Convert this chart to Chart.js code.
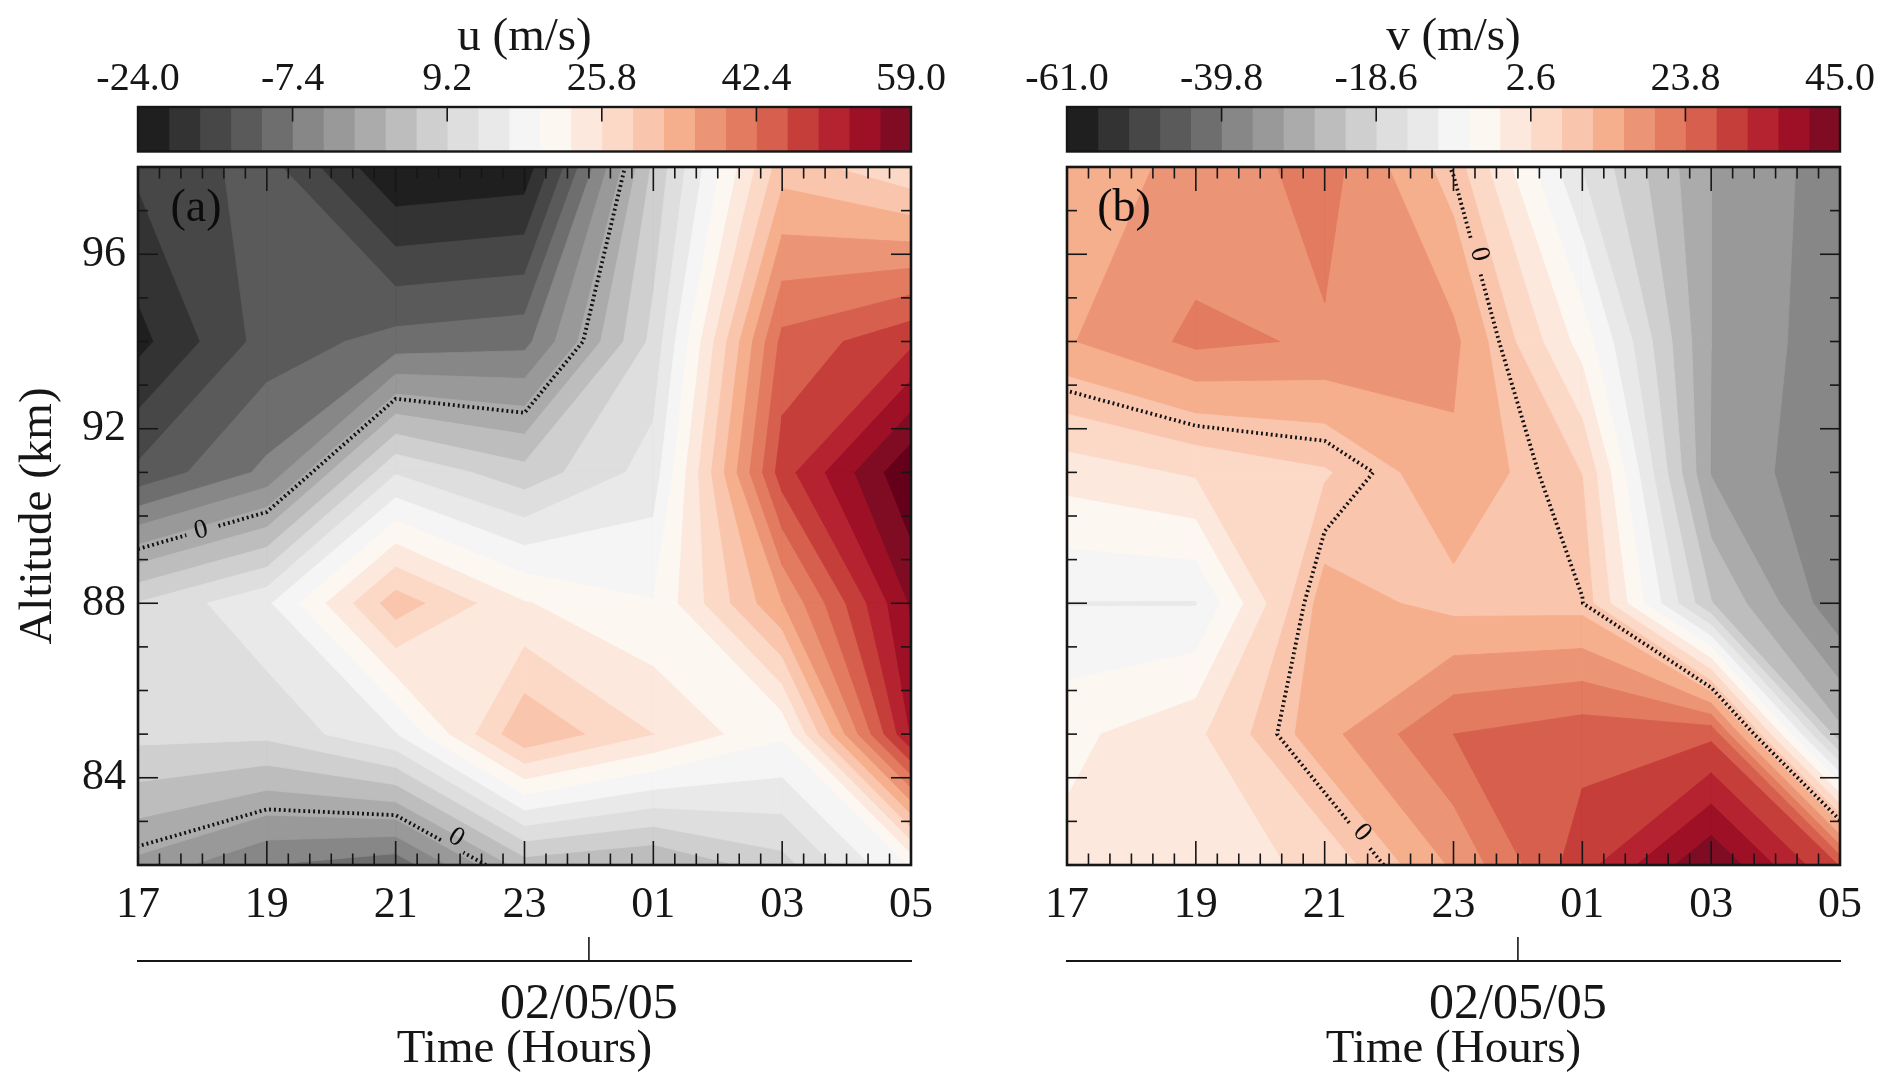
<!DOCTYPE html>
<html><head><meta charset="utf-8">
<script src="https://cdn.jsdelivr.net/npm/chart.js@4"></script>
<style>
html,body{margin:0;padding:0;background:#fff;width:1892px;height:1089px;overflow:hidden}
canvas{position:absolute;display:block}
</style></head><body>
<canvas id="cbA" style="left:0;top:0"></canvas>
<canvas id="cbB" style="left:985px;top:0"></canvas>
<canvas id="plotA" style="left:0;top:158px"></canvas>
<canvas id="plotB" style="left:985px;top:158px"></canvas>
<script>
// ---- grid axes (hours run past midnight: 25 = 01h) ----
const hours = [17,19,21,23,25,27,29];
const altitudes = [82,85,88,91,94,98];
// ---- eastward wind u (m/s), one list per altitude ----
const u82 = [-1.7,-7.4,-9.6,4.1,2.2,7.9,19.5];
const u85 = [10.2,10,15.6,32,25.8,19.7,52.6];
const u88 = [9.4,15.2,31,22.7,19.35,35.6,56.1];
const u91 = [-13.3,-6.6,12.2,7.1,14,47.5,62];
const u94 = [-21.8,-12.6,-9.5,-8.5,10.2,43.4,48.3];
const u98 = [-16.7,-12.7,-24,-23,6.5,30.9,26.3];
// ---- northward wind v (m/s), one list per altitude ----
const v82 = [-9.76,-9.36,-5.61,6.64,21.14,35.44,18.44];
const v85 = [-12.16,-7.76,4.54,14.44,16.94,17.64,-35.36];
const v88 = [-19.66,-19.76,3.74,0.29,0.14,-31.96,-48.36];
const v91 = [-9.16,-6.22,-3.06,5.04,-2.61,-40.96,-49.06];
const v94 = [5.54,11.24,9.64,7.04,-12.86,-40.66,-47.86];
const v98 = [4.24,6.84,12.14,-0.36,-23.96,-40.66,-47.16];
// ---- contour levels and colours ----
const uLevels = [-24,-20.68,-17.36,-14.04,-10.72,-7.4,-4.08,-0.76,2.56,5.88,9.2,12.52,15.84,19.16,22.48,25.8,29.12,32.44,35.76,39.08,42.4,45.72,49.04,52.36,55.68,59];
const vLevels = [-70.36,-66.12,-61.88,-57.64,-53.4,-49.16,-44.92,-40.68,-36.44,-32.2,-27.96,-23.72,-19.48,-15.24,-11,-6.76,-2.52,1.72,5.96,10.2,14.44,18.68,22.92,27.16,31.4,35.64];
const vBarLevels = [-61,-56.76,-52.52,-48.28,-44.04,-39.8,-35.56,-31.32,-27.08,-22.84,-18.6,-14.36,-10.12,-5.88,-1.64,2.6,6.84,11.08,15.32,19.56,23.8,28.04,32.28,36.52,40.76,45];
const bandColors = ['#1f1f1f','#333333','#474747','#5a5a5a','#6e6e6e','#878787','#999999','#ababab','#bdbdbd','#cfcfcf','#dedede','#e9e9e9','#f5f5f5','#fdf7f2','#fce8dc','#fcd9c7','#fac5ad','#f5af8d','#ec9576','#e27b60','#d6604d','#c63e3a','#b52330','#9e1026','#800c24','#64001a'];
const uBarTicks = [-24,-7.4,9.2,25.8,42.4,59];
const vBarTicks = [-61,-39.8,-18.6,2.6,23.8,45];
const uBarLabels = ['-24.0','-7.4','9.2','25.8','42.4','59.0'];
const vBarLabels = ['-61.0','-39.8','-18.6','2.6','23.8','45.0'];
const hourMajor = [17,19,21,23,25,27,29];
const altMajor = [84,88,92,96];
const dateTick = [24];
// zero-contour label anchors: [hour, altitude, rotation in degrees]
const uZeroLabels = [[17.98,89.67,-14],[21.94,82.63,32]];
const vZeroLabels = [[23.4,96.0,76],[21.58,82.74,48]];

const INK = '#161616';
const FONT = '"Liberation Serif", serif';
const grids = {u:[u82,u85,u88,u91,u94,u98], v:[v82,v85,v88,v91,v94,v98]};

function cellCorners(grid,i,j){
  return [[hours[i],altitudes[j],grid[j][i]],[hours[i+1],altitudes[j],grid[j][i+1]],
          [hours[i+1],altitudes[j+1],grid[j+1][i+1]],[hours[i],altitudes[j+1],grid[j+1][i]]];
}
function cross(a,b,L){const t=(L-a[2])/(b[2]-a[2]);return {x:a[0]+t*(b[0]-a[0]),y:a[1]+t*(b[1]-a[1])};}
function bandDatasets(grid, levels){
  const sets = [];
  levels.forEach((L,k)=>{
    const pts = [];
    const addPoly = poly => { if(poly.length>2) pts.push(...poly,{x:poly[0].x,y:poly[0].y},{x:null,y:null}); };
    for(let j=0;j<altitudes.length-1;j++) for(let i=0;i<hours.length-1;i++){
      const cs = cellCorners(grid,i,j);
      const isIn = c => k===0 || c[2]>=L;
      const flags = cs.map(isIn);
      if(flags[0]===flags[2] && flags[1]===flags[3] && flags[0]!==flags[1]){
        // saddle: the two high corners stay apart
        for(let e=0;e<4;e++) if(flags[e]){
          const a=cs[e], n=cs[(e+1)%4], p=cs[(e+3)%4];
          addPoly([cross(p,a,L),{x:a[0],y:a[1]},cross(a,n,L)]);
        }
        continue;
      }
      const poly = [];
      for(let e=0;e<4;e++){
        const a=cs[e], b=cs[(e+1)%4];
        if(flags[e]) poly.push({x:a[0],y:a[1]});
        if(flags[e]!==flags[(e+1)%4]) poly.push(cross(a,b,L));
      }
      addPoly(poly);
    }
    if(pts.length) sets.push({data:pts,showLine:true,fill:'shape',backgroundColor:bandColors[k],borderColor:bandColors[k],
      borderWidth:0.9,pointRadius:0,pointHoverRadius:0,tension:0,order:100-k});
  });
  return sets;
}
function zeroDataset(grid, labels){
  const segs=[];
  for(let j=0;j<altitudes.length-1;j++) for(let i=0;i<hours.length-1;i++){
    const cs = cellCorners(grid,i,j);
    const f = cs.map(c=>c[2]>=0);
    const P=(a,b)=>{const q=cross(a,b,0);return [q.x,q.y];};
    if(f[0]===f[2] && f[1]===f[3] && f[0]!==f[1]){
      for(let e=0;e<4;e++) if(f[e]) segs.push([P(cs[(e+3)%4],cs[e]),P(cs[e],cs[(e+1)%4])]);
      continue;
    }
    const hit=[];
    for(let e=0;e<4;e++) if(f[e]!==f[(e+1)%4]) hit.push(P(cs[e],cs[(e+1)%4]));
    if(hit.length===2) segs.push(hit);
  }
  const same=(p,q)=>Math.abs(p[0]-q[0])<1e-6&&Math.abs(p[1]-q[1])<1e-6;
  const lines=[];
  while(segs.length){
    let line=segs.pop(), grew=true;
    while(grew){ grew=false;
      for(let s=0;s<segs.length;s++){ const [p,q]=segs[s]; const end=line[line.length-1], st=line[0];
        if(same(p,end)){line.push(q);} else if(same(q,end)){line.push(p);}
        else if(same(p,st)){line.unshift(q);} else if(same(q,st)){line.unshift(p);} else continue;
        segs.splice(s,1); grew=true; break; }
    }
    lines.push(line);
  }
  const near=(x,y)=>labels.some(l=>Math.hypot((x-l[0])*64.4,(y-l[1])*43.75)<15);
  const pts=[];
  lines.forEach(line=>{
    for(let s=0;s+1<line.length;s++){ const a=line[s],b=line[s+1];
      for(let t=0;t<24;t++){ const x=a[0]+(b[0]-a[0])*t/24,y=a[1]+(b[1]-a[1])*t/24;
        pts.push(near(x,y)?{x:null,y:null}:{x,y}); }
    }
    const e=line[line.length-1]; pts.push({x:e[0],y:e[1]},{x:null,y:null});
  });
  return {data:pts,showLine:true,fill:false,borderColor:'#101010',borderWidth:3.8,borderDash:[1.9,3],
    pointRadius:0,pointHoverRadius:0,tension:0,order:-1};
}
function line(ctx,x1,y1,x2,y2){ctx.beginPath();ctx.moveTo(x1,y1);ctx.lineTo(x2,y2);ctx.stroke();}
const framePlugin = opts => ({id:'frame',afterDatasetsDraw(c){
  const {ctx,chartArea:a,scales:{x,y}}=c;
  ctx.save(); ctx.strokeStyle=INK; ctx.fillStyle='#0c0c0c';
  ctx.lineWidth=1.6;
  for(let h=17;h<=29.001;h+=1/3){
    const major=hourMajor.some(m=>Math.abs(m-h)<1e-6), p=x.getPixelForValue(h), L=major?24:11.5;
    if(h<17.01||h>28.99) continue;
    line(ctx,p,a.bottom,p,a.bottom-L); line(ctx,p,a.top,p,a.top+L);
  }
  for(let v=83;v<=97;v++){
    const p=y.getPixelForValue(v), L=altMajor.includes(v)?20:10;
    line(ctx,a.left,p,a.left+L,p); line(ctx,a.right,p,a.right-L,p);
  }
  ctx.lineWidth=2.6; ctx.strokeRect(a.left,a.top,a.right-a.left,a.bottom-a.top);
  // date tick, rising from the secondary axis line
  ctx.lineWidth=1.6;
  const dt=x.getPixelForValue(dateTick[0]), base=c.scales.x2.top;
  line(ctx,dt,base,dt,base-24);
  // panel letter
  ctx.textAlign='center'; ctx.textBaseline='middle';
  ctx.font='46px '+FONT; ctx.fillText(opts.letter,a.left+opts.letterDx,a.top+42);
  // zero labels
  ctx.font='27px '+FONT;
  opts.zero.forEach(l=>{ctx.save();ctx.translate(x.getPixelForValue(l[0]),y.getPixelForValue(l[1]));ctx.rotate(l[2]*Math.PI/180);ctx.fillText('0',0,0);ctx.restore();});
  ctx.restore();
}});
const fmtHour = v => String(v%24).padStart(2,'0');
function makePlot(id,w,padL,padR,grid,levels,opts){
  const cv=document.getElementById(id); cv.width=w; cv.height=931;
  const noSidePad = s => { s.paddingLeft=0; s.paddingRight=0; s.paddingTop=0; s.paddingBottom=0; };
  return new Chart(cv,{type:'scatter',
    data:{datasets:[zeroDataset(grid,opts.zero),...bandDatasets(grid,levels)]},
    plugins:[framePlugin(opts)],
    options:{responsive:false,animation:false,devicePixelRatio:1,events:[],
      layout:{padding:{top:9,left:padL,right:padR,bottom:0}},
      plugins:{legend:{display:false},tooltip:{enabled:false}},
      scales:{
        x:{type:'linear',min:17,max:29,position:'bottom',weight:0,
          grid:{display:false,drawTicks:false},border:{display:false},
          afterBuildTicks:s=>{s.ticks=hourMajor.map(v=>({value:v}));},
          afterFit:s=>{s.height=96;noSidePad(s);},
          ticks:{autoSkip:false,maxRotation:0,padding:14,color:INK,font:{family:FONT,size:44},callback:fmtHour}},
        x2:{type:'linear',min:17,max:29,position:'bottom',weight:1,
          grid:{display:false,drawTicks:false},border:{display:true,color:INK,width:2},
          afterBuildTicks:s=>{s.ticks=dateTick.map(v=>({value:v}));},
          afterFit:s=>{s.height=128;noSidePad(s);},
          title:{display:true,text:'Time (Hours)',color:INK,font:{family:FONT,size:47},padding:{top:0,bottom:11}},
          ticks:{autoSkip:false,maxRotation:0,padding:14,color:INK,font:{family:FONT,size:50},callback:()=>'02/05/05'}},
        y:{type:'linear',min:82,max:98,position:'left',
          grid:{display:false,drawTicks:false},border:{display:false},
          afterBuildTicks:s=>{s.ticks=altMajor.map(v=>({value:v}));},
          afterFit:s=>{s.width=opts.yWidth;noSidePad(s);},
          title:{display:opts.showY,text:'Altitude (km)',color:INK,font:{family:FONT,size:47},padding:{top:10,bottom:0}},
          ticks:{display:opts.showY,autoSkip:false,padding:12,color:INK,font:{family:FONT,size:44}}}
      }}});
}
function makeBar(id,w,padL,padR,levels,tickVals,tickLabels,title){
  const cv=document.getElementById(id); cv.width=w; cv.height=158;
  const ds=bandColors.slice(0,25).map((col,i)=>({data:[[levels[i],levels[i+1]]],backgroundColor:col,borderWidth:0,
    barPercentage:1,categoryPercentage:1,grouped:false}));
  return new Chart(cv,{type:'bar',data:{labels:[title],datasets:ds},
    plugins:[{id:'barFrame',afterDatasetsDraw(c){
      const {ctx,chartArea:a,scales:{x}}=c; ctx.save(); ctx.strokeStyle=INK;
      ctx.lineWidth=1.6; tickVals.slice(1,-1).forEach(v=>{const p=x.getPixelForValue(v);line(ctx,p,a.top,p,a.top+14.5);});
      ctx.lineWidth=2.4; ctx.strokeRect(a.left,a.top,a.right-a.left,a.bottom-a.top); ctx.restore();
    }}],
    options:{indexAxis:'y',responsive:false,animation:false,devicePixelRatio:1,events:[],
      layout:{padding:{top:0,left:padL,right:padR,bottom:6.5}},
      plugins:{legend:{display:false},tooltip:{enabled:false}},
      scales:{
        x:{type:'linear',position:'top',min:levels[0],max:levels[25],
          grid:{display:false,drawTicks:false},border:{display:false},
          afterBuildTicks:s=>{s.ticks=tickVals.map(v=>({value:v}));},
          afterFit:s=>{s.height=107;s.paddingLeft=0;s.paddingRight=0;},
          title:{display:true,text:title,color:INK,font:{family:FONT,size:47},padding:{top:9,bottom:0}},
          ticks:{autoSkip:false,maxRotation:0,padding:4,color:INK,font:{family:FONT,size:40},
            callback:v=>tickLabels[tickVals.findIndex(t=>Math.abs(t-v)<1e-6)]}},
        y:{type:'category',display:false}
      }}});
}
makeBar('cbA',985,138,74,uLevels,uBarTicks,uBarLabels,'u (m/s)');
makeBar('cbB',907,82,52,vBarLevels,vBarTicks,vBarLabels,'v (m/s)');
makePlot('plotA',985,0,74,grids.u,uLevels,{letter:'(a)',letterDx:58,zero:uZeroLabels,showY:true,yWidth:138});
makePlot('plotB',907,0,52,grids.v,vLevels,{letter:'(b)',letterDx:57,zero:vZeroLabels,showY:false,yWidth:82});
</script>
</body></html>
